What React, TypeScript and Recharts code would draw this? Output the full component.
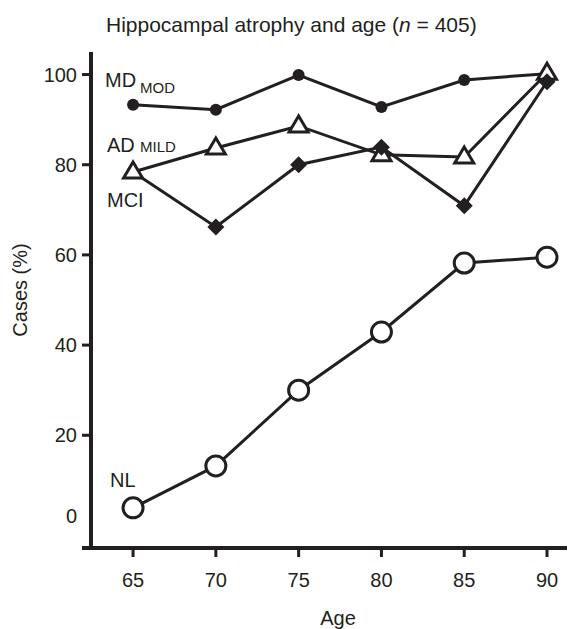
import React from "react";
import { LineChart, Line, XAxis, YAxis, Customized } from "recharts";

const AGES = [65, 70, 75, 80, 85, 90];
const MD_MOD = [93.3, 92.2, 99.9, 92.8, 98.8, 100.2];
const AD_MILD = [78.4, 83.7, 88.6, 82.2, 81.7, 100.3];
const MCI = [78.4, 66.2, 80, 83.9, 70.9, 98.4];
const NL = [3.9, 13.2, 30, 42.9, 58.2, 59.5];
const Y_TICKS = [0, 20, 40, 60, 80, 100];

const INK = "#231f20";
const FONT = "'Liberation Sans', Arial, Helvetica, sans-serif";

const data = AGES.map((age, i) => ({
  age,
  md: MD_MOD[i],
  ad: AD_MILD[i],
  mci: MCI[i],
  nl: NL[i],
}));

const FilledCircle = (p: any) => {
  const { cx, cy } = p;
  if (cx == null || cy == null) return null;
  return <circle cx={cx} cy={cy} r={6} fill={INK} stroke="none" />;
};

const OpenCircle = (p: any) => {
  const { cx, cy } = p;
  if (cx == null || cy == null) return null;
  return <circle cx={cx} cy={cy} r={10} fill="#fff" stroke={INK} strokeWidth={3} />;
};

const Triangle = (p: any) => {
  const { cx, cy } = p;
  if (cx == null || cy == null) return null;
  const d = `M${cx},${cy - 10} L${cx + 9.5},${cy + 6} L${cx - 9.5},${cy + 6} Z`;
  return <path d={d} fill="#fff" stroke={INK} strokeWidth={3} strokeLinejoin="miter" />;
};

const Diamond = (p: any) => {
  const { cx, cy, index } = p;
  if (cx == null || cy == null || index === 0) return null;
  const s = 8.5;
  const d = `M${cx},${cy - s} L${cx + s},${cy} L${cx},${cy + s} L${cx - s},${cy} Z`;
  return <path d={d} fill={INK} stroke="none" />;
};

const YTick = (p: any) => {
  const { x, y, payload } = p;
  const v = payload.value;
  return (
    <g>
      {v !== 0 && (
        <line x1={x + 5} x2={x + 15} y1={y} y2={y} stroke={INK} strokeWidth={3} />
      )}
      <text
        x={x}
        y={v === 0 ? y - 10 : y}
        dy="0.355em"
        textAnchor="end"
        fontSize={20}
        fontFamily={FONT}
        fill={INK}
      >
        {v}
      </text>
    </g>
  );
};

const Annotations = () => (
  <g fontFamily={FONT} fill={INK}>
    <text x={98} y={24} fontSize={21}>
      Hippocampal atrophy and age (<tspan fontStyle="italic">n</tspan> = 405)
    </text>
    <text x={97} y={79} fontSize={20}>MD</text>
    <text x={132} y={85} fontSize={15}>MOD</text>
    <text x={99} y={144} fontSize={20}>AD</text>
    <text x={132} y={144} fontSize={15}>MILD</text>
    <text x={99} y={199} fontSize={20}>MCI</text>
    <text x={102} y={479} fontSize={20}>NL</text>
    <text x={330} y={617} fontSize={20} textAnchor="middle">Age</text>
    <text
      x={12}
      y={282}
      fontSize={20}
      textAnchor="middle"
      dominantBaseline="central"
      transform="rotate(-90 12 282)"
    >
      Cases (%)
    </text>
    <line x1={74} x2={85} y1={540} y2={540} stroke={INK} strokeWidth={4} />
  </g>
);

export default function App() {
  return (
    <div style={{ width: 567, height: 621 }}>
      <LineChart
        width={567}
        height={621}
        data={data}
        margin={{ top: 44, right: 0, bottom: 0, left: 23 }}
      >
        <XAxis
          dataKey="age"
          type="number"
          domain={[62.46, 91.69]}
          ticks={AGES}
          allowDataOverflow
          height={81}
          tickSize={9}
          tickMargin={16}
          axisLine={{ stroke: INK, strokeWidth: 4 }}
          tickLine={{ stroke: INK, strokeWidth: 3 }}
          tick={{ fill: INK, fontSize: 20, fontFamily: FONT }}
        />
        <YAxis
          type="number"
          domain={[-5, 105]}
          ticks={Y_TICKS}
          allowDataOverflow
          width={60}
          tickSize={9}
          tickMargin={5}
          axisLine={{ stroke: INK, strokeWidth: 4 }}
          tickLine={false}
          tick={<YTick />}
        />
        <Line
          dataKey="nl"
          stroke={INK}
          strokeWidth={3}
          dot={<OpenCircle />}
          activeDot={false}
          isAnimationActive={false}
        />
        <Line
          dataKey="md"
          stroke={INK}
          strokeWidth={3}
          dot={<FilledCircle />}
          activeDot={false}
          isAnimationActive={false}
        />
        <Line
          dataKey="ad"
          stroke={INK}
          strokeWidth={3}
          dot={<Triangle />}
          activeDot={false}
          isAnimationActive={false}
        />
        <Line
          dataKey="mci"
          stroke={INK}
          strokeWidth={3}
          dot={<Diamond />}
          activeDot={false}
          isAnimationActive={false}
        />
        <Customized component={<Annotations />} />
      </LineChart>
    </div>
  );
}
